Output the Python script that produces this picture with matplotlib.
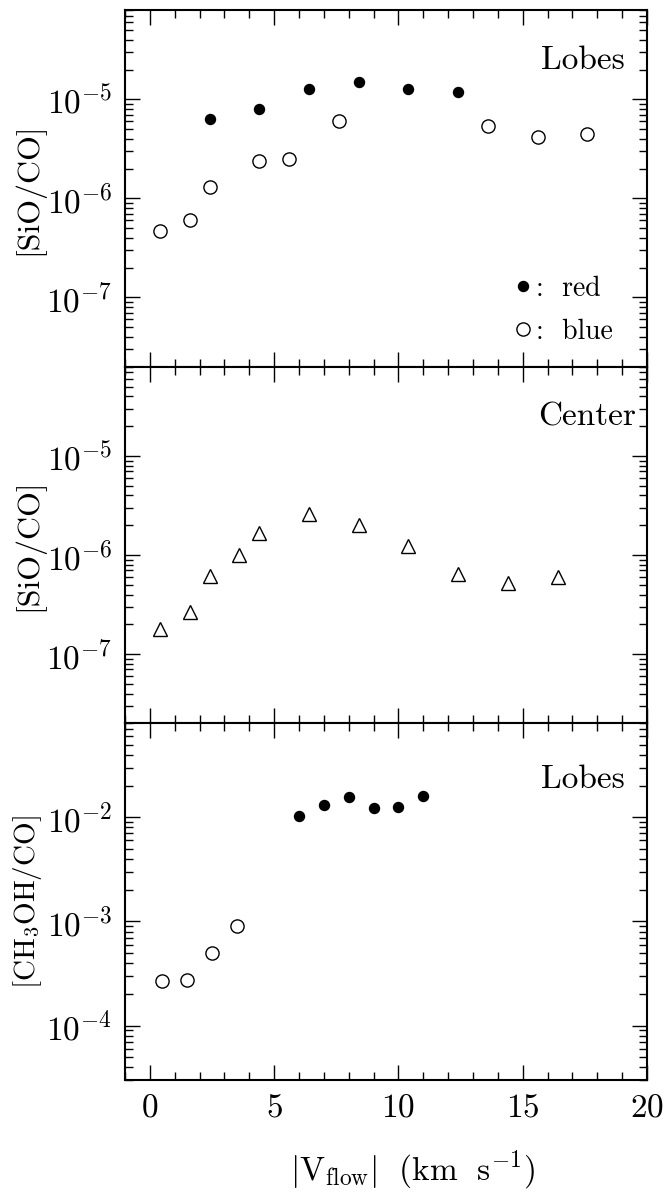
import matplotlib
matplotlib.use("Agg")
import matplotlib.pyplot as plt
from matplotlib.ticker import LogLocator, NullFormatter, MultipleLocator

plt.rcParams['font.family'] = ['cmr10', 'DejaVu Serif']
plt.rcParams['mathtext.fontset'] = 'cm'
plt.rcParams['axes.formatter.use_mathtext'] = True
plt.rcParams['axes.unicode_minus'] = True

# Panel 1: SiO/CO in the lobes
lobe_red_v = [2.4, 4.4, 6.4, 8.4, 10.4, 12.4]
lobe_red_sio = [6.3e-6, 8.0e-6, 1.28e-5, 1.5e-5, 1.27e-5, 1.19e-5]
lobe_blue_v = [0.4, 1.6, 2.4, 4.4, 5.6, 7.6, 13.6, 15.6, 17.6]
lobe_blue_sio = [4.7e-7, 6.0e-7, 1.32e-6, 2.4e-6, 2.5e-6, 6.1e-6, 5.36e-6, 4.2e-6, 4.5e-6]

# Panel 2: SiO/CO at the center
center_v = [0.4, 1.6, 2.4, 3.6, 4.4, 6.4, 8.4, 10.4, 12.4, 14.4, 16.4]
center_sio = [1.81e-7, 2.69e-7, 6.1e-7, 9.95e-7, 1.69e-6, 2.59e-6, 2.0e-6, 1.24e-6, 6.4e-7, 5.2e-7, 6.08e-7]

# Panel 3: CH3OH/CO in the lobes
meth_red_v = [6, 7, 8, 9, 10, 11]
meth_red = [1.03e-2, 1.30e-2, 1.56e-2, 1.22e-2, 1.26e-2, 1.61e-2]
meth_blue_v = [0.5, 1.5, 2.5, 3.5]
meth_blue = [2.69e-4, 2.75e-4, 5.0e-4, 8.95e-4]

fig, axes = plt.subplots(3, 1, figsize=(6.7, 11.94), dpi=100, sharex=True)
fig.subplots_adjust(left=0.1866, right=0.9657, top=0.9916, bottom=0.0955, hspace=0)

ax1, ax2, ax3 = axes

ax1.plot(lobe_red_v, lobe_red_sio, 'o', color='black', ms=7.2, ls='none', label=':  red')
ax1.plot(lobe_blue_v, lobe_blue_sio, 'o', mfc='white', mec='black', mew=1.0, ms=9.5,
         ls='none', label=':  blue')
ax1.set_ylim(2e-8, 8e-5)
ax1.text(0.958, 0.858, 'Lobes', transform=ax1.transAxes, ha='right', va='center', fontsize=24)
ax1.legend(loc='upper left', bbox_to_anchor=(0.748, 0.255), frameon=False, fontsize=20,
           handlelength=0.55, handletextpad=0.2, labelspacing=0.6, borderaxespad=0,
           borderpad=0)

ax2.plot(center_v, center_sio, '^', mfc='white', mec='black', mew=1.0, ms=9.5, ls='none')
ax2.set_ylim(2e-8, 8e-5)
ax2.text(0.979, 0.86, 'Center', transform=ax2.transAxes, ha='right', va='center', fontsize=24)

ax3.plot(meth_red_v, meth_red, 'o', color='black', ms=7.2, ls='none')
ax3.plot(meth_blue_v, meth_blue, 'o', mfc='white', mec='black', mew=1.0, ms=9.5, ls='none')
ax3.set_ylim(3e-5, 8e-2)
ax3.text(0.958, 0.843, 'Lobes', transform=ax3.transAxes, ha='right', va='center', fontsize=24)

ax1.set_ylabel('[SiO/CO]', fontsize=23)
ax2.set_ylabel('[SiO/CO]', fontsize=23)
ax3.set_ylabel(r'[CH$_3$OH/CO]', fontsize=21)

for ax in axes:
    ax.set_yscale('log')
    ax.set_xlim(-1, 20)
    ax.xaxis.set_major_locator(MultipleLocator(5))
    ax.xaxis.set_minor_locator(MultipleLocator(1))
    ax.yaxis.set_major_locator(LogLocator(base=10, numticks=12))
    ax.yaxis.set_minor_locator(LogLocator(base=10, subs=range(2, 10), numticks=12))
    ax.yaxis.set_minor_formatter(NullFormatter())
    ax.tick_params(which='both', direction='in', top=True, right=True, labelsize=24)
    ax.tick_params(which='major', length=11, width=1.0)
    ax.tick_params(which='minor', length=5.5, width=1.0)
    ax.tick_params(axis='y', pad=9)
    ax.tick_params(axis='x', pad=10)
    for s in ax.spines.values():
        s.set_linewidth(1.5)
    ax.yaxis.set_label_coords(-0.155, 0.5)

ax3.set_xlabel(r'$|\mathrm{V}_{\rm flow}|\ \ (\mathrm{km\ \ s^{-1}})$', fontsize=24)
ax3.xaxis.set_label_coords(0.55, -0.19)

fig.savefig('out.png', dpi=100)
